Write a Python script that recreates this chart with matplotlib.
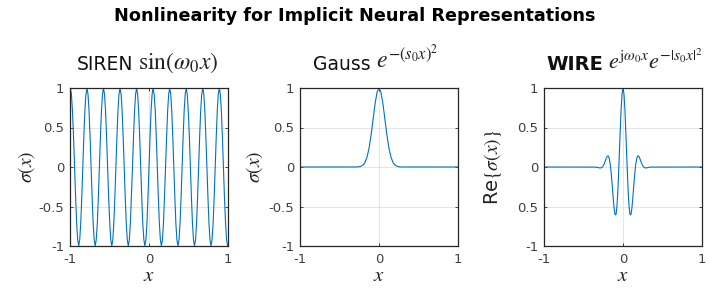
import matplotlib.pyplot as plt

plt.rcParams['font.family'] = 'DejaVu Sans'
plt.rcParams['mathtext.fontset'] = 'stix'

SUPTITLE = "Nonlinearity for Implicit Neural Representations"
TITLE_WORDS = ["SIREN", "Gauss", "WIRE"]
TITLE_MATH = [r"$\sin(\omega_0 x)$",
              r"$e^{-(s_0 x)^2}$",
              r"$e^{\mathrm{j}\omega_0 x}e^{-|s_0 x|^2}$"]
YLABELS = [r"$\sigma(x)$", r"$\sigma(x)$", r"Re$\{\sigma(x)\}$"]

X_TICKS = [-1, 0, 1]
X_TICKLABELS = ["-1", "0", "1"]
Y_TICKS = [-1, -0.5, 0, 0.5, 1]
Y_TICKLABELS = ["-1", "-0.5", "0", "0.5", "1"]
# the WIRE panel shows its -0.5 tick without the minus sign
WIRE_Y_TICKLABELS = ["-1", "0.5", "0", "0.5", "1"]

# samples, 16 per period
SIREN_X = [-1.000,
           -0.995, -0.982, -0.969, -0.955, -0.942, -0.929, -0.916, -0.903,
           -0.890, -0.877, -0.864, -0.851, -0.838, -0.825, -0.812, -0.798,
           -0.785, -0.772, -0.759, -0.746, -0.733, -0.720, -0.707, -0.694,
           -0.681, -0.668, -0.654, -0.641, -0.628, -0.615, -0.602, -0.589,
           -0.576, -0.563, -0.550, -0.537, -0.524, -0.511, -0.497, -0.484,
           -0.471, -0.458, -0.445, -0.432, -0.419, -0.406, -0.393, -0.380,
           -0.367, -0.353, -0.340, -0.327, -0.314, -0.301, -0.288, -0.275,
           -0.262, -0.249, -0.236, -0.223, -0.209, -0.196, -0.183, -0.170,
           -0.157, -0.144, -0.131, -0.118, -0.105, -0.092, -0.079, -0.065,
           -0.052, -0.039, -0.026, -0.013,
           0.000, 0.013, 0.026, 0.039, 0.052, 0.065, 0.079, 0.092,
           0.105, 0.118, 0.131, 0.144, 0.157, 0.170, 0.183, 0.196,
           0.209, 0.223, 0.236, 0.249, 0.262, 0.275, 0.288, 0.301,
           0.314, 0.327, 0.340, 0.353, 0.367, 0.380, 0.393, 0.406,
           0.419, 0.432, 0.445, 0.458, 0.471, 0.484, 0.497, 0.511,
           0.524, 0.537, 0.550, 0.563, 0.576, 0.589, 0.602, 0.615,
           0.628, 0.641, 0.654, 0.668, 0.681, 0.694, 0.707, 0.720,
           0.733, 0.746, 0.759, 0.772, 0.785, 0.798, 0.812, 0.825,
           0.838, 0.851, 0.864, 0.877, 0.890, 0.903, 0.916, 0.929,
           0.942, 0.955, 0.969, 0.982, 0.995,
           1.000]
SIREN_Y = [0.99,
           1, 0.92, 0.71, 0.38, 0, -0.38, -0.71, -0.92,
           -1, -0.92, -0.71, -0.38, 0, 0.38, 0.71, 0.92,
           1, 0.92, 0.71, 0.38, 0, -0.38, -0.71, -0.92,
           -1, -0.92, -0.71, -0.38, 0, 0.38, 0.71, 0.92,
           1, 0.92, 0.71, 0.38, 0, -0.38, -0.71, -0.92,
           -1, -0.92, -0.71, -0.38, 0, 0.38, 0.71, 0.92,
           1, 0.92, 0.71, 0.38, 0, -0.38, -0.71, -0.92,
           -1, -0.92, -0.71, -0.38, 0, 0.38, 0.71, 0.92,
           1, 0.92, 0.71, 0.38, 0, -0.38, -0.71, -0.92,
           -1, -0.92, -0.71, -0.38,
           0, 0.38, 0.71, 0.92, 1, 0.92, 0.71, 0.38,
           0, -0.38, -0.71, -0.92, -1, -0.92, -0.71, -0.38,
           0, 0.38, 0.71, 0.92, 1, 0.92, 0.71, 0.38,
           0, -0.38, -0.71, -0.92, -1, -0.92, -0.71, -0.38,
           0, 0.38, 0.71, 0.92, 1, 0.92, 0.71, 0.38,
           0, -0.38, -0.71, -0.92, -1, -0.92, -0.71, -0.38,
           0, 0.38, 0.71, 0.92, 1, 0.92, 0.71, 0.38,
           0, -0.38, -0.71, -0.92, -1, -0.92, -0.71, -0.38,
           0, 0.38, 0.71, 0.92, 1, 0.92, 0.71, 0.38,
           0, -0.38, -0.71, -0.92, -1,
           -0.99]

GAUSS_X = [-1, -0.3, -0.275, -0.25, -0.225, -0.2, -0.175, -0.15, -0.125,
           -0.1, -0.075, -0.05, -0.025, 0, 0.025, 0.05, 0.075, 0.1,
           0.125, 0.15, 0.175, 0.2, 0.225, 0.25, 0.275, 0.3, 1]
GAUSS_Y = [0, 0.0003, 0.0011, 0.0036, 0.0104, 0.027, 0.063, 0.131, 0.244,
           0.406, 0.602, 0.798, 0.945, 1, 0.945, 0.798, 0.602, 0.406,
           0.244, 0.131, 0.063, 0.027, 0.0104, 0.0036, 0.0011, 0.0003, 0]

WIRE_X = [-1, -0.35, -0.325, -0.3, -0.2875, -0.275, -0.2625, -0.25, -0.2375,
          -0.225, -0.2125, -0.2, -0.1875, -0.175, -0.1625, -0.15, -0.1375,
          -0.125, -0.1125, -0.1, -0.0875, -0.075, -0.0625, -0.05, -0.0375,
          -0.025, -0.0125, 0, 0.0125, 0.025, 0.0375, 0.05, 0.0625, 0.075,
          0.0875, 0.1, 0.1125, 0.125, 0.1375, 0.15, 0.1625, 0.175, 0.1875,
          0.2, 0.2125, 0.225, 0.2375, 0.25, 0.2625, 0.275, 0.2875, 0.3,
          0.325, 0.35, 1]
WIRE_Y = [0, -0.001, -0.005, -0.011, -0.012, -0.009, -0.001, 0.016, 0.042,
          0.075, 0.109, 0.135, 0.141, 0.114, 0.044, -0.070, -0.220,
          -0.382, -0.524, -0.606, -0.599, -0.477, -0.247, 0.063, 0.402,
          0.710, 0.923, 1, 0.923, 0.710, 0.402, 0.063, -0.247, -0.477,
          -0.599, -0.606, -0.524, -0.382, -0.220, -0.070, 0.044, 0.114, 0.141,
          0.135, 0.109, 0.075, 0.042, 0.016, -0.001, -0.009, -0.012, -0.011,
          -0.005, -0.001, 0]

W, H = 709, 297
fig = plt.figure(figsize=(W / 100, H / 100), dpi=100)

fig.text(0.5, 1 - 21 / H, SUPTITLE, ha='center', va='baseline',
         fontsize=12.7, fontweight='bold', color='black')

lefts = [70, 300, 544]
word_end = [133, 371, 603]
math_start = [138, 376, 608]
math_size = [17, 17, 16]
ylabel_x = [-0.272, -0.285, -0.325]
series = [(SIREN_X, SIREN_Y), (GAUSS_X, GAUSS_Y), (WIRE_X, WIRE_Y)]

for i in range(3):
    ax = fig.add_axes([lefts[i] / W, 51 / H, 158 / W, 158 / H])
    xs, ys = series[i]
    ax.plot(xs, ys, color='#0072BD', lw=0.8)

    ax.set_xlim(-1, 1)
    ax.set_ylim(-1, 1)
    ax.set_xticks(X_TICKS)
    ax.set_xticklabels(X_TICKLABELS)
    ax.set_yticks(Y_TICKS)
    ax.set_yticklabels(WIRE_Y_TICKLABELS if i == 2 else Y_TICKLABELS)
    ax.grid(True, color='#e0e0e0', lw=0.6)
    ax.set_axisbelow(True)
    ax.tick_params(direction='in', top=True, right=True, length=2.5, width=0.6,
                   labelsize=9.5, labelcolor='#404040', color='#262626')
    ax.tick_params(axis='x', pad=5)
    ax.tick_params(axis='y', pad=4)
    for s in ax.spines.values():
        s.set_linewidth(0.9)
        s.set_color('#262626')

    ax.set_xlabel(r"$x$", fontsize=15, color='#222222', va='center')
    ax.xaxis.set_label_coords(0.5, -0.185)
    ax.set_ylabel(YLABELS[i], fontsize=14, color='#222222', va='center')
    ax.yaxis.set_label_coords(ylabel_x[i], 0.5)

    fig.text(word_end[i] / W, 1 - 70 / H, TITLE_WORDS[i], ha='right',
             va='baseline', fontsize=14 if i == 2 else 13.5,
             fontweight='bold' if i == 2 else 'normal', color='#111111')
    fig.text(math_start[i] / W, 1 - 69 / H, TITLE_MATH[i], ha='left',
             va='baseline', fontsize=math_size[i], color='#222222')

fig.savefig("out.png", dpi=100)
